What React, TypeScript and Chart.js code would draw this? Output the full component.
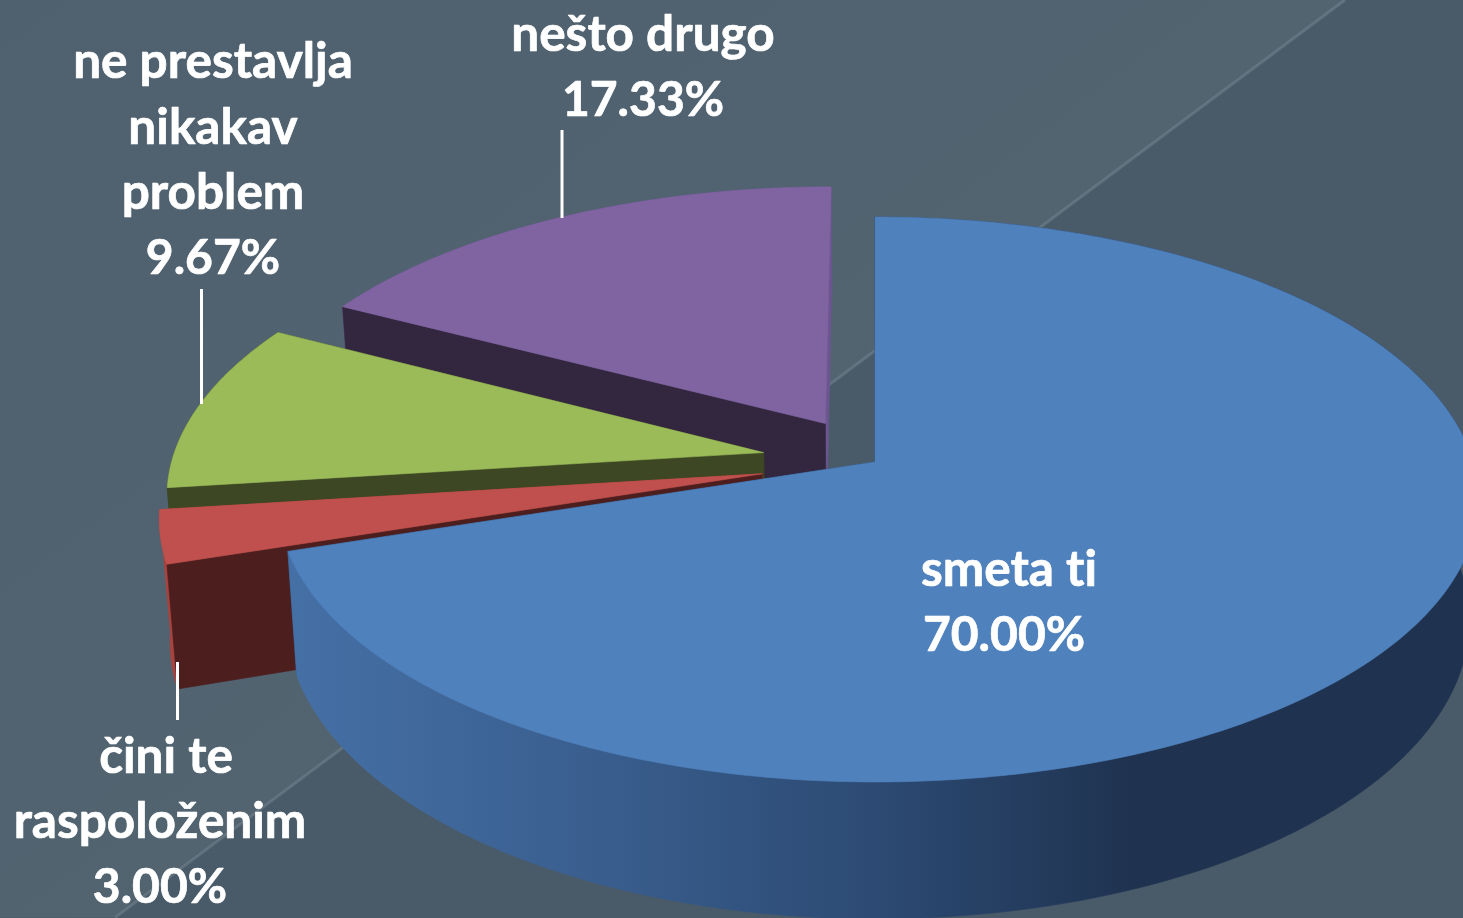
import React, { useEffect, useRef } from "react";
import { Chart, registerables } from "chart.js";

Chart.register(...registerables);

const categories = ["smeta ti", "čini te raspoloženim", "ne prestavlja nikakav problem", "nešto drugo"];
const values = [70.0, 3.0, 9.67, 17.33];
const explodePercent = [0, 19.4, 19.2, 16.5];
const topColors = ["#4f81bd", "#c0504d", "#9bbb59", "#8064a2"];
const wallStartColors = ["#2a4a75", "#4c1f1e", "#3d4723", "#33263f"];
const wallEndColors = ["#2a4a75", "#a8433f", "#3d4723", "#6c5590"];
const rimColors = ["#2a4a75", "#a8433f", "#3d4723", "#6c5590"];
const labelLines = [
  ["smeta ti", "70.00%"],
  ["čini te", "raspoloženim", "3.00%"],
  ["ne prestavlja", "nikakav", "problem", "9.67%"],
  ["nešto drugo", "17.33%"],
];
const labelAnchors = [
  [[1009, 586], [1004, 651]],
  [[166, 773], [160, 838], [160, 903]],
  [[213, 78], [213, 144], [213, 209], [213, 274]],
  [[643, 51], [643, 116]],
];
const leaders = [
  [562, 130, 218],
  [201.5, 289, 404],
  [177.5, 662, 720],
];

const W = 1463;
const H = 918;
// Projection of the pie plane (camera parameters of the 3-D view)
const X0 = 875, Y0 = 462, AL = 592, AR = 598, B = 277.5, P = 0.1327, YB = 581, KX = 0.985, KY = 1.056;

function project(u: number, v: number, bottom: boolean): [number, number] {
  const s = 1 / (1 + P * v);
  const x = X0 + (u < 0 ? AL : AR) * u * s;
  const y = Y0 - B * v * s;
  return bottom ? [X0 + (x - X0) * KX, YB + (y - Y0) * KY] : [x, y];
}

function poly(ctx: CanvasRenderingContext2D, pts: [number, number][], fill: any) {
  ctx.beginPath();
  pts.forEach((p, i) => (i ? ctx.lineTo(p[0], p[1]) : ctx.moveTo(p[0], p[1])));
  ctx.closePath();
  ctx.fillStyle = fill;
  ctx.strokeStyle = fill;
  ctx.lineWidth = 0.6;
  ctx.fill();
  ctx.stroke();
}

const pie3d = {
  id: "pie3d",
  beforeDraw(chart: any) {
    const ctx: CanvasRenderingContext2D = chart.ctx;
    const lineY = (x: number) => (1345 - x) * 0.746;
    ctx.save();
    ctx.fillStyle = "#495a68";
    ctx.fillRect(0, 0, W, H);
    const g = ctx.createLinearGradient(0, 0, 700, 918);
    g.addColorStop(0, "#4f606e");
    g.addColorStop(0.5, "#516270");
    g.addColorStop(1, "#566771");
    ctx.beginPath();
    ctx.moveTo(0, 0);
    ctx.lineTo(1345, 0);
    ctx.lineTo(115, lineY(115));
    ctx.lineTo(0, lineY(115));
    ctx.closePath();
    ctx.fillStyle = g;
    ctx.fill();
    ctx.beginPath();
    ctx.moveTo(1345, 0);
    ctx.lineTo(115, lineY(115));
    ctx.strokeStyle = "rgba(150,165,175,0.28)";
    ctx.lineWidth = 3;
    ctx.stroke();
    ctx.restore();
  },
  beforeDatasetsDraw(chart: any) {
    const ctx: CanvasRenderingContext2D = chart.ctx;
    const arcs = chart.getDatasetMeta(0).data;
    ctx.save();
    // painter's order: back slices first, the big front slice last
    [3, 2, 1, 0].forEach((i) => {
      const arc = arcs[i];
      const start = arc.startAngle + Math.PI / 2;
      const end = arc.endAngle + Math.PI / 2;
      const mid = (start + end) / 2;
      const e = arc.options.offset / 100;
      const ou = e * Math.sin(mid);
      const ov = e * Math.cos(mid);
      const steps = Math.max(8, Math.ceil(((end - start) * 180) / Math.PI));
      const topPts: [number, number][] = [];
      const botPts: [number, number][] = [];
      for (let k = 0; k <= steps; k++) {
        const t = start + ((end - start) * k) / steps;
        const u = ou + Math.sin(t);
        const v = ov + Math.cos(t);
        topPts.push(project(u, v, false));
        botPts.push(project(u, v, true));
      }
      const tipT = project(ou, ov, false);
      const tipB = project(ou, ov, true);
      const last = steps;
      poly(ctx, [tipT, topPts[last], botPts[last], tipB], wallEndColors[i]);
      let rim: any = rimColors[i];
      if (i === 0) {
        const g = ctx.createLinearGradient(290, 0, 1130, 0);
        g.addColorStop(0, "#4570a6");
        g.addColorStop(0.35, "#3a5f8f");
        g.addColorStop(0.7, "#2c4a73");
        g.addColorStop(1, "#1f3350");
        rim = g;
      }
      poly(ctx, [...topPts, ...botPts.slice().reverse()], rim);
      poly(ctx, [tipT, topPts[0], botPts[0], tipB], wallStartColors[i]);
      poly(ctx, [tipT, ...topPts], topColors[i]);
    });
    // leader lines
    ctx.strokeStyle = "#ffffff";
    ctx.lineWidth = 3;
    leaders.forEach(([x, y1, y2]) => {
      ctx.beginPath();
      ctx.moveTo(x, y1);
      ctx.lineTo(x, y2);
      ctx.stroke();
    });
    // data labels
    ctx.fillStyle = "#ffffff";
    ctx.strokeStyle = "#ffffff";
    ctx.lineWidth = 0.7;
    ctx.lineJoin = "round";
    (ctx as any).letterSpacing = "0.01px";
    ctx.textAlign = "center";
    ctx.textBaseline = "alphabetic";
    labelLines.forEach((lines, i) =>
      lines.forEach((t, j) => {
        ctx.font = t.endsWith("%") ? "bold 48px Lato" : "bold 49.5px Lato";
        ctx.fillText(t, labelAnchors[i][j][0], labelAnchors[i][j][1]);
        ctx.strokeText(t, labelAnchors[i][j][0], labelAnchors[i][j][1]);
      })
    );
    ctx.restore();
    return false;
  },
};

export default function App() {
  const ref = useRef<HTMLCanvasElement>(null);
  useEffect(() => {
    document.body.style.margin = "0";
    document.documentElement.style.overflow = "hidden";
    const chart = new Chart(ref.current as HTMLCanvasElement, {
      type: "pie",
      data: {
        labels: categories,
        datasets: [
          {
            data: values,
            backgroundColor: topColors,
            offset: explodePercent,
            borderWidth: 0,
          } as any,
        ],
      },
      options: {
        animation: false,
        responsive: false,
        plugins: { legend: { display: false }, tooltip: { enabled: false } },
      },
      plugins: [pie3d as any],
    });
    return () => chart.destroy();
  }, []);
  return <canvas ref={ref} width={W} height={H} style={{ display: "block", width: W, height: H }} />;
}
